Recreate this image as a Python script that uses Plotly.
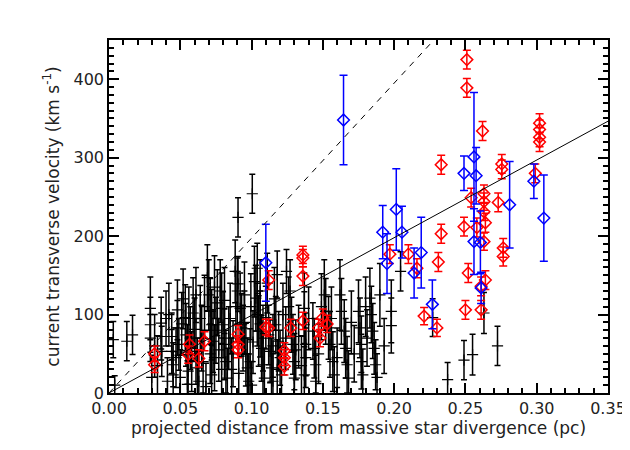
# %%
import plotly.graph_objects as go

# %%
# red diamonds: distance (pc), velocity (km/s), error
red_x = [0.032, 0.032, 0.0565, 0.0555, 0.063, 0.067, 0.0905, 0.0905, 0.0905,
         0.110, 0.112, 0.112, 0.123, 0.123, 0.123, 0.1275, 0.136, 0.136, 0.136,
         0.136, 0.147, 0.148, 0.150, 0.153, 0.197, 0.210, 0.216, 0.221, 0.230,
         0.231, 0.233, 0.233, 0.249, 0.250, 0.251, 0.251, 0.252, 0.254, 0.258,
         0.261, 0.261, 0.262, 0.263, 0.263, 0.263, 0.263, 0.264, 0.264, 0.273,
         0.2755, 0.2755, 0.2765, 0.2765, 0.299, 0.302, 0.302, 0.302, 0.302]
red_y = [50, 36, 62, 49, 44, 66, 75, 62, 55,
         84, 144, 83, 54, 45, 34, 83, 176, 172, 149,
         92, 83, 70, 96, 88, 177, 177, 159, 98, 83,
         167, 291, 203, 212, 106, 425, 389, 153, 249, 211,
         136, 106, 334, 254, 244, 231, 193, 217, 144, 243,
         292, 285, 185, 174, 280, 344, 336, 326, 320]
red_err = [10, 10, 12, 11, 11, 12, 11, 11, 10,
           10, 12, 11, 10, 10, 11, 11, 11, 11, 12,
           11, 11, 11, 11, 11, 12, 12, 12, 11, 11,
           12, 12, 12, 12, 12, 12, 12, 12, 12, 12,
           12, 12, 12, 11, 11, 11, 11, 12, 12, 12,
           12, 12, 12, 12, 12, 12, 12, 12, 12]

# blue diamonds
blue_x = [0.110, 0.1645, 0.192, 0.195, 0.2015, 0.2055, 0.214, 0.219, 0.2268,
          0.249, 0.256, 0.2575, 0.256, 0.2605, 0.261, 0.281, 0.298, 0.305]
blue_y = [166, 348, 205, 165, 234, 205, 153, 179, 113,
          280, 301, 277, 193, 192, 134, 240, 270, 223]
blue_err = [49, 57, 34, 38, 52, 33, 32, 45, 31,
            22, 82, 36, 42, 40, 20, 55, 22, 55]

# black crosses
black_x = [0.003, 0.004, 0.0125, 0.0165,
           0.029, 0.029, 0.029, 0.030, 0.032, 0.034,
           0.0366, 0.0366, 0.037, 0.040, 0.041, 0.042,
           0.044, 0.044, 0.045, 0.045, 0.047,
           0.048, 0.048, 0.049, 0.051, 0.050, 0.052,
           0.0535, 0.054, 0.055, 0.0555, 0.055, 0.057, 0.056, 0.058,
           0.059, 0.060, 0.061, 0.062, 0.063, 0.064, 0.066, 0.068,
           0.061, 0.065, 0.067,
           0.069, 0.070, 0.071, 0.072, 0.073, 0.074, 0.072, 0.076, 0.077,
           0.071, 0.074, 0.075, 0.079,
           0.078, 0.079, 0.080, 0.081, 0.082, 0.083, 0.085, 0.086,
           0.081, 0.084, 0.087, 0.089, 0.091,
           0.0885, 0.090, 0.092, 0.093, 0.094, 0.096, 0.097, 0.098,
           0.095, 0.095, 0.099, 0.100,
           0.0995, 0.101, 0.106,
           0.102, 0.103, 0.104, 0.105, 0.107, 0.108, 0.109,
           0.106, 0.108, 0.111,
           0.0905, 0.1005, 0.104, 0.118, 0.1245, 0.0905,
           0.110, 0.112, 0.113, 0.114, 0.115, 0.116, 0.115, 0.118,
           0.117, 0.119, 0.120, 0.121, 0.122, 0.126, 0.124, 0.127,
           0.128, 0.129, 0.130, 0.130, 0.133, 0.135, 0.131,
           0.137, 0.137, 0.138, 0.138, 0.137, 0.140,
           0.143, 0.144, 0.145, 0.145, 0.147, 0.149,
           0.151, 0.152, 0.154, 0.155, 0.157, 0.158, 0.156, 0.160,
           0.162, 0.163, 0.165, 0.166, 0.167, 0.168, 0.170, 0.172,
           0.175, 0.176, 0.177, 0.177, 0.178, 0.180, 0.181,
           0.183, 0.184, 0.185, 0.186, 0.187, 0.188, 0.190, 0.193,
           0.198, 0.198, 0.2045, 0.227, 0.2375, 0.249, 0.255, 0.263, 0.2725]
black_y = [68, 10, 66, 74,
           108, 87, 70, 20, 60, 35,
           89, 72, 53, 95, 15, 100,
           72, 53, 36, 23, 45,
           106, 83, 62, 88, 20, 120,
           96, 74, 49, 28, 11, 70, 95, 40,
           102, 81, 53, 32, 15, 95, 40, 8,
           125, 70, 110,
           147, 125, 104, 87, 66, 45, 23, 115, 55,
           50, 135, 80, 30,
           130, 108, 87, 62, 40, 19, 95, 30,
           118, 70, 50, 110, 25,
           155, 130, 108, 87, 70, 49, 32, 15,
           125, 90, 40, 10,
           110, 65, 88,
           142, 121, 100, 79, 57, 36, 19,
           130, 70, 140,
           224, 254, 159, 151, 155, 139,
           96, 74, 53, 32, 15, 120, 60, 30,
           87, 66, 45, 23, 100, 110, 70, 130,
           87, 62, 40, 19, 72, 35, 55,
           108, 87, 62, 45, 23, 95,
           79, 57, 36, 15, 50, 110,
           125, 104, 83, 62, 40, 23, 95, 45,
           125, 104, 79, 57, 36, 19, 90, 50,
           104, 83, 62, 40, 23, 110, 70,
           121, 100, 79, 57, 36, 20, 125, 60,
           104, 86, 155, 96, 17, 42, 49, 102, 60]
black_err = [23, 12, 25, 25,
             40, 35, 30, 28, 40, 38,
             33, 30, 32, 35, 30, 40,
             30, 28, 28, 30, 38,
             38, 35, 33, 40, 35, 38,
             42, 40, 38, 35, 30, 40, 40, 38,
             45, 40, 42, 38, 35, 42, 40, 30,
             35, 42, 40,
             42, 45, 42, 45, 40, 42, 38, 42, 40,
             38, 40, 42, 40,
             40, 45, 42, 45, 40, 38, 45, 40,
             42, 40, 42, 45, 40,
             40, 42, 45, 40, 42, 40, 38, 35,
             42, 40, 42, 30,
             42, 40, 42,
             45, 42, 40, 45, 42, 40, 38,
             40, 42, 38,
             25, 25, 32, 30, 28, 35,
             40, 38, 40, 38, 35, 40, 40, 38,
             36, 38, 35, 35, 40, 38, 40, 40,
             35, 38, 36, 35, 40, 38, 38,
             45, 42, 40, 38, 36, 40,
             36, 38, 36, 33, 38, 42,
             45, 42, 40, 42, 38, 36, 40, 38,
             45, 42, 40, 38, 36, 35, 40, 36,
             40, 38, 36, 35, 33, 38, 36,
             38, 36, 35, 33, 32, 30, 40, 35,
             40, 35, 25, 24, 22, 25, 26, 26, 25]

# reference lines through the origin (km/s per pc)
solid_slope = 990
dashed_slope = 1975
line_x = [0.0, 0.35]

# %%
fig = go.Figure()

fig.add_trace(go.Scatter(
    x=black_x, y=black_y, mode='markers',
    error_y=dict(type='data', array=black_err, color='black',
                 thickness=1.5, width=3),
    marker=dict(symbol='cross-thin', size=8, color='black',
                line=dict(color='black', width=1.2)),
))
fig.add_trace(go.Scatter(
    x=red_x, y=red_y, mode='markers',
    error_y=dict(type='data', array=red_err, color='#ff0000',
                 thickness=1.5, width=4),
    marker=dict(symbol='diamond-open', size=9, color='#ff0000',
                line=dict(color='#ff0000', width=1.5)),
))
fig.add_trace(go.Scatter(
    x=blue_x, y=blue_y, mode='markers',
    error_y=dict(type='data', array=blue_err, color='#0000ff',
                 thickness=1.5, width=4),
    marker=dict(symbol='diamond-open', size=9, color='#0000ff',
                line=dict(color='#0000ff', width=1.5)),
))
fig.add_trace(go.Scatter(
    x=line_x, y=[solid_slope * v for v in line_x], mode='lines',
    line=dict(color='black', width=1),
))
fig.add_trace(go.Scatter(
    x=line_x, y=[dashed_slope * v for v in line_x], mode='lines',
    line=dict(color='black', width=1, dash='6px,6px'),
))
# empty trace so the top / right tick axes get drawn
fig.add_trace(go.Scatter(x=[None], y=[None], xaxis='x2', yaxis='y2',
                         hoverinfo='skip'))

tick_style = dict(
    showgrid=False, zeroline=False,
    ticks='inside', ticklen=10, tickwidth=1.6, tickcolor='black',
)
x_ticks = dict(range=[0, 0.35], tick0=0, dtick=0.05,
               minor=dict(dtick=0.01, ticks='inside', ticklen=5,
                          tickcolor='black', tickwidth=1.6))
y_ticks = dict(range=[0, 450], tick0=0, dtick=100,
               minor=dict(dtick=10, ticks='inside', ticklen=5,
                          tickcolor='black', tickwidth=1.6))

fig.update_layout(
    width=630, height=450,
    margin=dict(l=101, r=30, t=32, b=65),
    paper_bgcolor='white', plot_bgcolor='white',
    showlegend=False,
    font=dict(family='DejaVu Sans', size=17, color='#222'),
    xaxis=dict(
        tickformat='.2f',
        showline=True, linecolor='black', linewidth=1.5, mirror=True,
        tickfont=dict(size=16),
        title=dict(text='projected distance from massive star divergence (pc)',
                   standoff=4, font=dict(size=17)),
        **x_ticks, **tick_style,
    ),
    yaxis=dict(
        showline=True, linecolor='black', linewidth=1.5, mirror=True,
        tickfont=dict(size=16),
        title=dict(text='current transverse velocity (km s<sup>-1</sup>)',
                   standoff=10, font=dict(size=17)),
        **y_ticks, **tick_style,
    ),
    xaxis2=dict(overlaying='x', side='top', anchor='y2',
                showticklabels=False, **x_ticks, **tick_style),
    yaxis2=dict(overlaying='y', side='right', anchor='x2',
                showticklabels=False, **y_ticks, **tick_style),
)

fig.write_html('out.html')
